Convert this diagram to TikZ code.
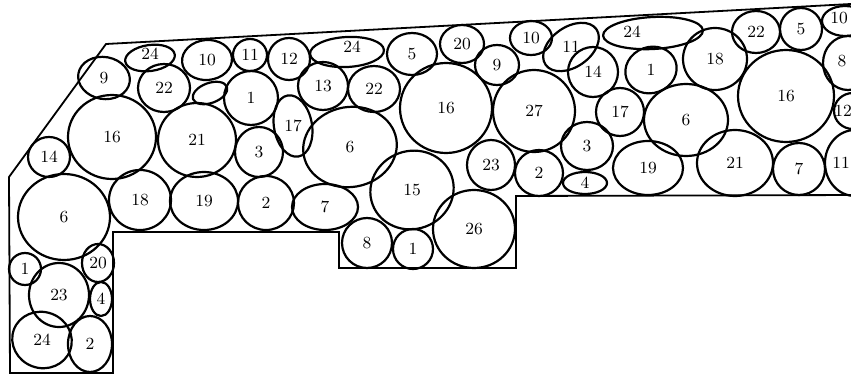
\documentclass[tikz,border=0pt]{standalone}
\begin{document}
\begin{tikzpicture}[x=0.5pt,y=-0.5pt,
  bed/.style={line width=1.1pt, line join=round},
  edge/.style={line width=0.9pt},
  lbl/.style={font=\fontsize{8.5}{10}\selectfont, inner sep=0pt}]
\newcommand{\pl}[7]{%
  \draw[bed, rotate around={#6:(#2,#3)}] (#2,#3) ellipse [x radius=#4, y radius=#5];
  \node[lbl] (#1) at (#2,#3) {#7};}
\newcommand{\plx}[9]{%
  \draw[bed, rotate around={#6:(#2,#3)}] (#2,#3) ellipse [x radius=#4, y radius=#5];
  \node[lbl] (#1) at (#8,#9) {#7};}
\useasboundingbox (0,0) rectangle (851,374);
\begin{scope}
\clip (0,0) rectangle (851,374);
% outline
\coordinate (tl) at (106,44);
\coordinate (tr) at (860,3.5);
\coordinate (dl) at (9,177);
\coordinate (bl) at (10,373);
\coordinate (b1) at (113,373);
\coordinate (b2) at (113,232);
\coordinate (b3) at (339,232);
\coordinate (b4) at (339,268);
\coordinate (b5) at (516,268);
\coordinate (b6) at (516,196);
\coordinate (br) at (860,195);
\draw[edge] (tr) -- (tl) -- (dl) -- (bl) -- (b1) -- (b2) -- (b3) -- (b4) -- (b5) -- (b6) -- (br);
% left part
\plx{a24}{150}{58}{25}{13}{8}{24}{150}{54}
\pl{a10}{207}{60}{25}{20}{5}{10}
\pl{a9}{104}{78}{26}{21}{-10}{9}
\pl{a22}{164}{88}{26}{24}{0}{22}
\draw[bed, rotate around={20:(210,93)}] (210,93) ellipse [x radius=18, y radius=10];
\pl{a16}{112}{137}{44}{42}{0}{16}
\pl{a21}{197}{140}{39}{37}{0}{21}
\pl{a14}{49}{157}{21}{20}{0}{14}
\pl{a6}{64}{217}{46}{43}{0}{6}
\pl{a18}{140}{200}{31}{30}{0}{18}
\pl{a19}{204}{201}{34}{29}{0}{19}
\pl{a1}{25}{269}{16}{16}{0}{1}
\pl{a20}{98}{263}{16}{19}{0}{20}
\pl{a23}{59}{295}{30}{32}{0}{23}
\pl{a4}{101}{299}{11}{17}{0}{4}
\pl{a24b}{42}{340}{30}{28}{-20}{24}
\pl{a2}{90}{344}{22}{28}{0}{2}
% middle part
\pl{m11}{250}{55}{17}{16}{0}{11}
\pl{m12}{289}{59}{21}{21}{0}{12}
\plx{m24}{347}{52}{37}{15}{3}{24}{352}{47}
\pl{m5}{412}{54}{25}{21}{0}{5}
\pl{m1}{251}{98}{27}{27}{0}{1}
\pl{m13}{323}{86}{25}{24}{0}{13}
\pl{m22}{374}{89}{26}{23}{0}{22}
\pl{m17}{293}{126}{19}{31}{10}{17}
\pl{m3}{259}{152}{24}{25}{0}{3}
\pl{m6}{350}{147}{47}{40}{10}{6}
\pl{m2}{266}{203}{28}{27}{0}{2}
\pl{m7}{325}{207}{33}{23}{0}{7}
\pl{m15}{412}{190}{42}{39}{20}{15}
\pl{m8}{367}{243}{25}{25}{0}{8}
\pl{m1b}{413}{249}{20}{20}{0}{1}
\pl{m26}{474}{229}{41}{39}{0}{26}
\pl{m23}{491}{165}{24}{25}{0}{23}
\pl{m20}{462}{44}{22}{19}{0}{20}
\pl{m16}{446}{108}{46}{45}{0}{16}
\pl{m9}{497}{65}{22}{20}{0}{9}
\pl{m10}{531}{38}{21}{17}{0}{10}
\pl{m11b}{571}{47}{31}{20}{35}{11}
\pl{m27}{534}{111}{41}{41}{0}{27}
\pl{m14}{593}{72}{25}{25}{0}{14}
\pl{m2b}{539}{173}{24}{23}{0}{2}
\pl{m3b}{587}{146}{26}{24}{0}{3}
\pl{m4}{585}{183}{22}{11}{0}{4}
\pl{m17b}{620}{112}{24}{24}{0}{17}
% right part
\plx{r24}{653}{33}{50}{16}{3}{24}{632}{32}
\pl{r1}{651}{70}{26}{23}{20}{1}
\pl{r18}{715}{59}{32}{31}{0}{18}
\pl{r22}{756}{32}{24}{21}{0}{22}
\pl{r5}{801}{29}{21}{21}{0}{5}
\plx{r10}{845}{21}{23}{15}{0}{10}{839}{18}
\plx{r8}{848}{63}{25}{27}{0}{8}{842}{61}
\pl{r16}{786}{96}{48}{46}{0}{16}
\plx{r12}{853}{111}{19}{18}{0}{12}{843}{111}
\pl{r6}{686}{120}{42}{36}{0}{6}
\pl{r19}{648}{168}{35}{27}{0}{19}
\pl{r21}{735}{163}{38}{33}{0}{21}
\pl{r7}{799}{169}{26}{26}{0}{7}
\plx{r11}{855}{163}{30}{33}{0}{11}{841}{163}
\end{scope}
\end{tikzpicture}
\end{document}
